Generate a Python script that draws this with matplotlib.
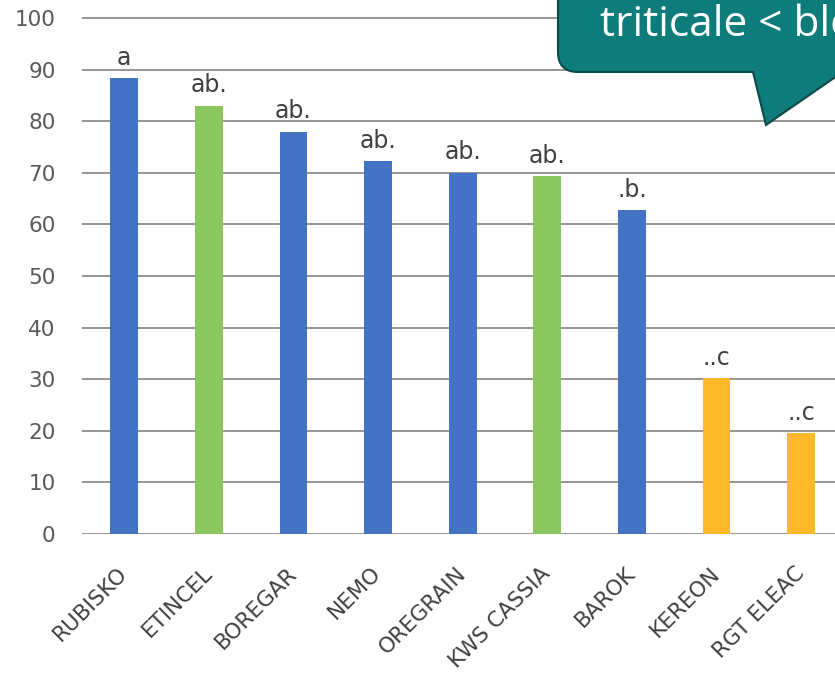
import matplotlib
matplotlib.use('Agg')
import matplotlib.pyplot as plt
from matplotlib.path import Path
from matplotlib.patches import PathPatch

# data
varieties = ['RUBISKO', 'ETINCEL', 'BOREGAR', 'NEMO', 'OREGRAIN',
             'KWS CASSIA', 'BAROK', 'KEREON', 'RGT ELEAC']
values = [88.4, 83.0, 78.0, 72.3, 70.0, 69.4, 62.7, 30.2, 19.5]
groups = ['a', 'ab.', 'ab.', 'ab.', 'ab.', 'ab.', '.b.', '..c', '..c']
kinds = ['ble', 'triticale', 'ble', 'ble', 'ble', 'triticale', 'ble', 'orge', 'orge']
callout_text = 'triticale < blé tendre'

kindColours = {'ble': '#4472C4', 'triticale': '#8CC65F', 'orge': '#FDB92A'}

W, H = 835, 674
plt.rcParams['font.family'] = ['DejaVu Sans']

fig = plt.figure(figsize=(W / 100, H / 100), dpi=100)

# axes placed by pixels: x from 82 to right edge, y=0 at 534, 5.16 px per unit
y0 = 534
pxUnit = 5.16
yTop = 101
ax = fig.add_axes([82 / W, (H - y0) / H, (W - 82) / W, yTop * pxUnit / H])

x = list(range(len(varieties)))
colours = [kindColours[k] for k in kinds]
ax.bar(x, values, width=0.33, color=colours, zorder=3)

for xi, v, g in zip(x, values, groups):
    ax.annotate(g, (xi, v), xytext=(0, 6), textcoords='offset points',
                ha='center', va='bottom', fontsize=17, color='#404040')

ax.set_xlim(-0.5, -0.5 + (W - 82) / 84.6)
ax.set_ylim(0, yTop)
ax.set_yticks(range(0, 101, 10))
ax.set_xticks(x)
ax.set_xticklabels(varieties, rotation=45, ha='right', va='center',
                   rotation_mode='anchor', fontsize=15.5, color='#404040')
ax.tick_params(axis='y', labelsize=15.5, labelcolor='#595959', length=0, pad=19)
ax.tick_params(axis='x', length=0, pad=26)
ax.yaxis.grid(True, color='#8C8C8C', linewidth=1.3, zorder=0)
ax.set_axisbelow(True)
for s in ax.spines.values():
    s.set_visible(False)

# speech bubble in the top right corner (pixel coords, y down)
r = 20
pts = [(558, -30), (558, 72 - r), (558, 72), (558 + r, 72), (753, 72),
       (766, 125), (860, 60), (860, -30), (558, -30)]
codes = [Path.MOVETO, Path.LINETO, Path.CURVE3, Path.CURVE3, Path.LINETO,
         Path.LINETO, Path.LINETO, Path.LINETO, Path.CLOSEPOLY]
verts = [(px / W, (H - py) / H) for px, py in pts]
bubble = PathPatch(Path(verts, codes), transform=fig.transFigure,
                   facecolor='#0E7C7A', edgecolor='#0B4A49', linewidth=1.5,
                   clip_on=False, zorder=10)
fig.patches.append(bubble)
fig.text(600 / W, (H - 36) / H, callout_text, color='white', fontsize=30.5,
         family='Open Sans', ha='left', va='baseline', zorder=11)

plt.savefig('out.png', dpi=100)
